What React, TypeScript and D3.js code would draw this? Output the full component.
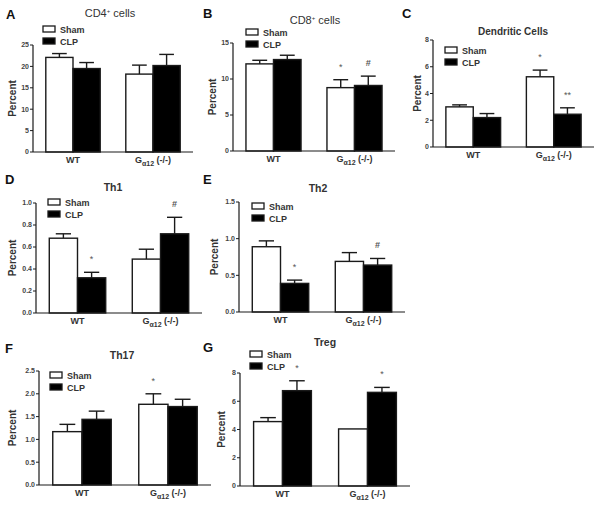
import React from "react";
import * as d3 from "d3";

const groups = ["WT", "Gα12 (-/-)"];
const series = ["Sham", "CLP"];

// means [group][series] and SEM [group][series]
const cd4Means = [[22.1, 19.5], [18.2, 20.2]];
const cd4Sem = [[0.9, 1.4], [2.1, 2.6]];
const cd8Means = [[12.1, 12.7], [8.8, 9.1]];
const cd8Sem = [[0.5, 0.6], [1.1, 1.3]];
const dcMeans = [[3.0, 2.2], [5.25, 2.45]];
const dcSem = [[0.15, 0.3], [0.5, 0.48]];
const th1Means = [[0.68, 0.32], [0.49, 0.72]];
const th1Sem = [[0.04, 0.05], [0.09, 0.15]];
const th2Means = [[0.89, 0.39], [0.69, 0.64]];
const th2Sem = [[0.08, 0.045], [0.12, 0.09]];
const th17Means = [[1.17, 1.44], [1.77, 1.72]];
const th17Sem = [[0.16, 0.18], [0.23, 0.16]];
const tregMeans = [[4.56, 6.75], [4.04, 6.63]];
const tregSem = [[0.28, 0.7], [0, 0.35]];

// significance marks [group][series]
const cd4Marks = [["", ""], ["", ""]];
const cd8Marks = [["", ""], ["*", "#"]];
const dcMarks = [["", ""], ["*", "**"]];
const th1Marks = [["", "*"], ["", "#"]];
const th2Marks = [["", "*"], ["", "#"]];
const th17Marks = [["", ""], ["*", ""]];
const tregMarks = [["", "*"], ["", "*"]];

const FONT = "'Liberation Sans', Arial, Helvetica, sans-serif";
const INK = "#1a1a1a";
const TXT = "#333";

type PanelCfg = {
  letter: string;
  title: React.ReactNode;
  titleBold: boolean;
  titleSize: number;
  means: number[][];
  sem: number[][];
  marks: string[][];
  max: number;
  step: number;
  fmt: (n: number) => string;
  x0: number; x1: number; yTop: number; yBot: number;
  letterX: number; letterY: number;
  titleX: number; titleY: number;
  legX: number; legY: number;
  ylabX: number;
};

const fInt = d3.format("d");
const f1 = d3.format(".1f");

const panels: PanelCfg[] = [
  { letter: "A", title: <>CD4<tspan dy={-4} fontSize={6}>+</tspan><tspan dy={4}> cells</tspan></>, titleBold: false, titleSize: 11,
    means: cd4Means, sem: cd4Sem, marks: cd4Marks, max: 25, step: 5, fmt: fInt,
    x0: 33, x1: 193, yTop: 45, yBot: 152, letterX: 6, letterY: 19, titleX: 110, titleY: 17, legX: 43, legY: 26, ylabX: 16 },
  { letter: "B", title: <>CD8<tspan dy={-4} fontSize={6}>+</tspan><tspan dy={4}> cells</tspan></>, titleBold: false, titleSize: 11,
    means: cd8Means, sem: cd8Sem, marks: cd8Marks, max: 15, step: 5, fmt: fInt,
    x0: 233, x1: 395, yTop: 43, yBot: 151, letterX: 203, letterY: 18, titleX: 315, titleY: 24, legX: 246, legY: 29, ylabX: 216 },
  { letter: "C", title: "Dendritic Cells", titleBold: true, titleSize: 10,
    means: dcMeans, sem: dcSem, marks: dcMarks, max: 8, step: 2, fmt: fInt,
    x0: 433, x1: 594, yTop: 40, yBot: 147, letterX: 402, letterY: 18, titleX: 513, titleY: 35, legX: 445, legY: 47, ylabX: 421 },
  { letter: "D", title: "Th1", titleBold: true, titleSize: 10.5,
    means: th1Means, sem: th1Sem, marks: th1Marks, max: 1.0, step: 0.2, fmt: f1,
    x0: 36, x1: 202, yTop: 203, yBot: 313, letterX: 5, letterY: 184, titleX: 113, titleY: 191, legX: 48, legY: 199, ylabX: 16 },
  { letter: "E", title: "Th2", titleBold: true, titleSize: 10.5,
    means: th2Means, sem: th2Sem, marks: th2Marks, max: 1.5, step: 0.5, fmt: f1,
    x0: 239, x1: 405, yTop: 202, yBot: 312, letterX: 203, letterY: 184, titleX: 318, titleY: 192, legX: 252, legY: 203, ylabX: 218 },
  { letter: "F", title: "Th17", titleBold: true, titleSize: 10.5,
    means: th17Means, sem: th17Sem, marks: th17Marks, max: 2.5, step: 0.5, fmt: f1,
    x0: 39, x1: 211, yTop: 371, yBot: 485, letterX: 5, letterY: 353, titleX: 122, titleY: 359, legX: 50, legY: 372, ylabX: 16 },
  { letter: "G", title: "Treg", titleBold: true, titleSize: 10.5,
    means: tregMeans, sem: tregSem, marks: tregMarks, max: 8, step: 2, fmt: fInt,
    x0: 240, x1: 410, yTop: 373, yBot: 486, letterX: 203, letterY: 352, titleX: 325, titleY: 346, legX: 250, legY: 351, ylabX: 225 },
];

function GroupLabel({ label, x, y }: { label: string; x: number; y: number }) {
  if (label.startsWith("G")) {
    return (
      <text x={x} y={y} textAnchor="middle" fontSize={9} fontWeight="bold" fill={TXT} fontFamily={FONT}>
        G<tspan fontSize={7} dy={2.5}>α12</tspan><tspan dy={-2.5}> (-/-)</tspan>
      </text>
    );
  }
  return (
    <text x={x} y={y} textAnchor="middle" fontSize={9} fontWeight="bold" fill={TXT} fontFamily={FONT}>{label}</text>
  );
}

function Panel({ p }: { p: PanelCfg }) {
  const y = d3.scaleLinear().domain([0, p.max]).range([p.yBot, p.yTop]);
  const gx = d3.scaleBand<string>().domain(groups).range([p.x0, p.x1]).paddingInner(0.32).paddingOuter(0.16);
  const sx = d3.scaleBand<string>().domain(series).range([0, gx.bandwidth()]);
  const bw = sx.bandwidth();
  const ticks = d3.range(0, p.max + p.step / 2, p.step);
  return (
    <g>
      <text x={p.letterX} y={p.letterY} fontSize={13} fontWeight="bold" fill="#111" fontFamily={FONT}>{p.letter}</text>
      <text x={p.titleX} y={p.titleY} textAnchor="middle" fontSize={p.titleSize} fontWeight={p.titleBold ? "bold" : "normal"} fill={TXT} fontFamily={FONT}>{p.title}</text>
      {groups.map((g, gi) =>
        series.map((s, si) => {
          const x = (gx(g) as number) + (sx(s) as number);
          const v = p.means[gi][si];
          const e = p.sem[gi][si];
          const top = y(v);
          const etop = y(v + e);
          const cx = x + bw / 2;
          const mark = p.marks[gi][si];
          return (
            <g key={g + s}>
              {e > 0 && (
                <g stroke={INK} strokeWidth={1.4}>
                  <line x1={cx} x2={cx} y1={top} y2={etop} />
                  <line x1={cx - bw * 0.27} x2={cx + bw * 0.27} y1={etop} y2={etop} />
                </g>
              )}
              <rect x={x} y={top} width={bw} height={p.yBot - top}
                fill={si === 0 ? "#fff" : "#000"} stroke={INK} strokeWidth={1.4} />
              {mark && (
                <text x={cx} y={etop - 13} textAnchor="middle" dominantBaseline="central"
                  fontSize={9} fontWeight={mark === "#" ? "bold" : "normal"} fill="#555" fontFamily={FONT}>{mark}</text>
              )}
            </g>
          );
        })
      )}
      <line x1={p.x0} x2={p.x1} y1={p.yBot} y2={p.yBot} stroke={INK} strokeWidth={1.2} />
      <line x1={p.x0} x2={p.x0} y1={p.yBot} y2={p.yTop} stroke={INK} strokeWidth={1.2} />
      {ticks.map((t) => (
        <g key={t}>
          <line x1={p.x0 - 3} x2={p.x0} y1={y(t)} y2={y(t)} stroke={INK} strokeWidth={1} />
          <text x={p.x0 - 4} y={y(t)} dy="0.35em" textAnchor="end" fontSize={7} fontWeight="bold" fill="#444" fontFamily={FONT}>{p.fmt(t)}</text>
        </g>
      ))}
      <text transform={`translate(${p.ylabX},${(p.yTop + p.yBot) / 2}) rotate(-90)`} textAnchor="middle"
        fontSize={10} fontWeight="bold" fill={TXT} fontFamily={FONT}>Percent</text>
      {groups.map((g) => (
        <GroupLabel key={g} label={g} x={(gx(g) as number) + gx.bandwidth() / 2} y={p.yBot + 11} />
      ))}
      {series.map((s, si) => (
        <g key={s}>
          <rect x={p.legX} y={p.legY + si * 12} width={12} height={6} fill={si === 0 ? "#fff" : "#000"} stroke={INK} strokeWidth={1.3} />
          <text x={p.legX + 17} y={p.legY + si * 12 + 7} fontSize={9} fontWeight="bold" fill={TXT} fontFamily={FONT}>{s}</text>
        </g>
      ))}
    </g>
  );
}

export default function App() {
  return (
    <svg width={602} height={507} style={{ position: "absolute", left: 0, top: 0, background: "#fff" }}>
      <rect width={602} height={507} fill="#fff" />
      {panels.map((p) => (
        <Panel key={p.letter} p={p} />
      ))}
    </svg>
  );
}
